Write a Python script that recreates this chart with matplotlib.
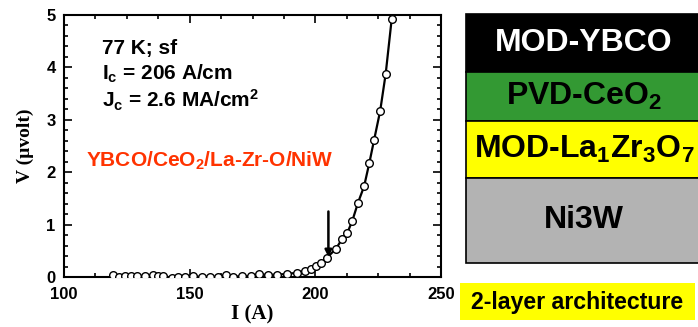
import matplotlib
matplotlib.use("Agg")
import matplotlib.pyplot as plt
from matplotlib.patches import Rectangle
from matplotlib.ticker import MultipleLocator

plt.rcParams['font.family'] = ['Liberation Sans', 'DejaVu Sans']
plt.rcParams['mathtext.fontset'] = 'custom'
plt.rcParams['mathtext.rm'] = 'Liberation Sans:bold'
plt.rcParams['mathtext.it'] = 'Liberation Sans:bold'
plt.rcParams['mathtext.bf'] = 'Liberation Sans:bold'

# I-V data
current = [119.6, 121.9, 124.3, 126.7, 129.2, 132.2, 135.5, 137.5, 139.5, 142.8,
           145.5, 148.1, 151.5, 154.8, 158.1, 161.4, 164.3, 167.4, 171.0, 174.3,
           177.6, 181.3, 184.9, 188.9, 192.6, 196.0, 198.1, 200.1, 202.2, 204.5,
           208.2, 210.6, 212.7, 214.7, 217.0, 219.4, 221.5, 223.4, 225.8, 228.0,
           230.4]
voltage = [0.045, 0.0, 0.02, 0.02, 0.02, 0.02, 0.03, 0.01, 0.01, -0.01,
           0.0, 0.0, 0.01, 0.0, 0.0, 0.0, 0.04, 0.0, 0.02, 0.01,
           0.05, 0.04, 0.045, 0.06, 0.08, 0.12, 0.16, 0.21, 0.27, 0.36,
           0.54, 0.72, 0.84, 1.07, 1.42, 1.73, 2.18, 2.62, 3.17, 3.88,
           4.93]

ic_arrow_x = 205.2
ic_arrow_y = (1.25, 0.38)

info_lines = ["77 K; sf", "I$_c$ = 206 A/cm", "J$_c$ = 2.6 MA/cm$^2$"]
sample_label = "YBCO/CeO$_2$/La-Zr-O/NiW"

# architecture stack, top to bottom
layer_names = ["MOD-YBCO", "PVD-CeO$_2$", "MOD-La$_1$Zr$_3$O$_7$", "Ni3W"]
layer_colors = ["#000000", "#339933", "#FFFF00", "#B3B3B3"]
layer_text_colors = ["white", "black", "black", "black"]
layer_edges = [14, 72, 121, 178, 263]

W, H = 698, 327
fig = plt.figure(figsize=(W / 100, H / 100), dpi=100)

ax = fig.add_axes([64 / W, 1 - 277 / H, 377 / W, 262 / H])
ax.plot(current, voltage, '-', color='black', lw=1.6, zorder=2)
ax.plot(current, voltage, 'o', mfc='white', mec='black', ms=5.5, mew=1.0, zorder=3)
ax.annotate('', xy=(ic_arrow_x, ic_arrow_y[1]), xytext=(ic_arrow_x, ic_arrow_y[0]),
            arrowprops=dict(arrowstyle='-|>', color='black', lw=1.8,
                            mutation_scale=10, shrinkA=0, shrinkB=0))

ax.set_xlim(100, 250)
ax.set_ylim(0, 5)
ax.xaxis.set_major_locator(MultipleLocator(50))
ax.xaxis.set_minor_locator(MultipleLocator(12.5))
ax.yaxis.set_major_locator(MultipleLocator(1))
ax.yaxis.set_minor_locator(MultipleLocator(0.2))
ax.tick_params(which='both', direction='in', top=True, right=True, width=1.2)
ax.tick_params(which='major', length=6, labelsize=12)
ax.tick_params(axis='x', which='major', pad=7)
ax.tick_params(axis='y', which='major', pad=6)
ax.tick_params(which='minor', length=3)
for lab in ax.get_xticklabels() + ax.get_yticklabels():
    lab.set_fontweight('bold')
for sp in ax.spines.values():
    sp.set_linewidth(1.5)

ax.set_xlabel("I (A)", family='Liberation Serif', fontweight='bold', fontsize=15, labelpad=2)
ax.set_ylabel("V (\u00b5volt)", family='Liberation Serif', fontweight='bold', fontsize=14, labelpad=9)

for i, line in enumerate(info_lines):
    ax.text(115.1, 4.37 - i * 0.5, line, fontsize=15, fontweight='bold',
            va='center', ha='left')
ax.text(108.8, 2.21, sample_label, fontsize=15, fontweight='bold', color='#FF3300',
        va='center', ha='left')

# right panel in pixel coordinates
pan = fig.add_axes([0, 0, 1, 1])
pan.set_xlim(0, W)
pan.set_ylim(H, 0)
pan.axis('off')
pan.patch.set_alpha(0)
for i, name in enumerate(layer_names):
    top, bot = layer_edges[i], layer_edges[i + 1]
    pan.add_patch(Rectangle((466, top), 260, bot - top, facecolor=layer_colors[i],
                            edgecolor='black', lw=1.2))
    pan.text(584, (top + bot) / 2, name, fontsize=23, fontweight='bold',
             color=layer_text_colors[i], ha='center', va='center')

pan.add_patch(Rectangle((460, 283), 235, 37, facecolor='#FFFF00', edgecolor='none'))
pan.text(577, 302, "2-layer architecture", fontsize=16.7, fontweight='bold',
         ha='center', va='center')

fig.savefig("out.png", dpi=100)
